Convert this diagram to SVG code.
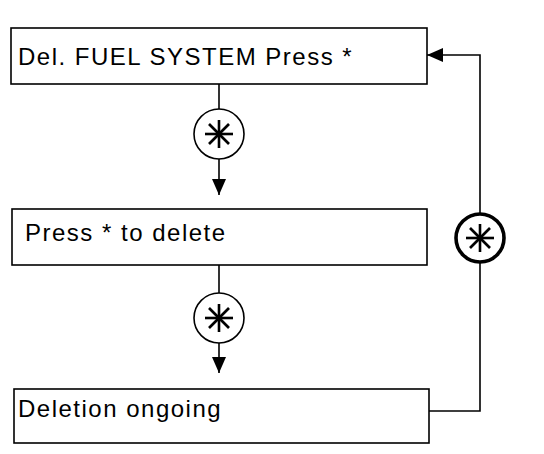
<svg xmlns="http://www.w3.org/2000/svg" width="544" height="454" viewBox="0 0 544 454">
<style>
.box{fill:#fff;stroke:#000;stroke-width:1.6}
.lbl{font-family:"Liberation Sans",Arial,sans-serif;font-size:24px;letter-spacing:1.5px;fill:#000}
.wire{fill:none;stroke:#000;stroke-width:1.6}
.key{fill:#fff;stroke:#000;stroke-width:1.6}
.keybig{fill:#fff;stroke:#000;stroke-width:3.6}
.star{stroke:#000;stroke-width:2.6;fill:none}
</style>
<defs>
<marker id="arr" viewBox="0 0 16 16" refX="16" refY="8" markerWidth="16" markerHeight="16" markerUnits="userSpaceOnUse" orient="auto">
<path d="M0,1 L16,8 L0,15 Z" fill="#000"/>
</marker>
<g id="asterisk">
<line x1="-14" y1="0" x2="14" y2="0"/>
<line x1="0" y1="-14" x2="0" y2="14"/>
<line x1="-10" y1="-10" x2="10" y2="10"/>
<line x1="-10" y1="10" x2="10" y2="-10"/>
</g>
</defs>
<rect width="544" height="454" fill="#fff"/>
<g id="connectors">
<path class="wire" d="M219,84 V195" marker-end="url(#arr)"/>
<path class="wire" d="M219,265 V373" marker-end="url(#arr)"/>
<path class="wire" d="M429,411 H480 V55 H427" marker-end="url(#arr)"/>
<g id="key1"><circle class="key" cx="219" cy="134" r="25"/><use href="#asterisk" class="star" x="219" y="134"/></g>
<g id="key2"><circle class="key" cx="219" cy="318" r="25"/><use href="#asterisk" class="star" x="219" y="318"/></g>
<g id="key3"><circle class="keybig" cx="480" cy="238" r="24"/><use href="#asterisk" class="star" x="480" y="238"/></g>
</g>
<g id="node1"><rect class="box" x="11" y="28" width="416" height="56"/><text class="lbl" x="18" y="65">Del. FUEL SYSTEM Press *</text></g>
<g id="node2"><rect class="box" x="12" y="209" width="415" height="56"/><text class="lbl" x="25" y="240.5">Press * to delete</text></g>
<g id="node3"><rect class="box" x="14" y="389" width="415" height="54"/><text class="lbl" x="18" y="416.5">Deletion ongoing</text></g>
</svg>
